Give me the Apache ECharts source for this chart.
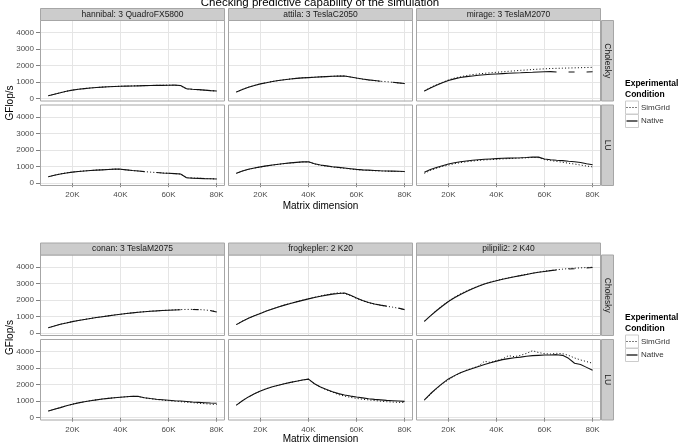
<!DOCTYPE html>
<html><head><meta charset="utf-8">
<script src="https://cdn.jsdelivr.net/npm/echarts@6/dist/echarts.min.js"></script>
<style>html,body{margin:0;padding:0;background:#fff}#c{width:678px;height:444px}</style>
</head><body><div id="c"></div>
<script>
// Matrix dimension (thousands)
const xs = [10,12.5,15,17.5,20,22.5,25,27.5,30,32.5,35,37.5,40,42.5,45,47.5,50,52.5,55,57.5,60,62.5,65,67.5,70,72.5,75,77.5,80];
const xTicks = [20,40,60,80];
const yTicks = [0,1000,2000,3000,4000];
const chartTitle = 'Checking predictive capability of the simulation';
const xTitle = 'Matrix dimension';
const yTitle = 'GFlop/s';
const rowLabels = ['Cholesky','LU'];
const legendTitle = ['Experimental','Condition'];
const legendLabels = ['SimGrid','Native'];
const topTitles = ['hannibal: 3 QuadroFX5800','attila: 3 TeslaC2050','mirage: 3 TeslaM2070'];
const bottomTitles = ['conan: 3 TeslaM2075','frogkepler: 2 K20','pilipili2: 2 K40'];

// GFlop/s values
const hannibalCholSim    = [185,275,365,450,525,575,615,650,680,705,725,740,755,765,775,785,790,800,810,815,820,820,790,590,565,545,515,490,465];
const hannibalCholNative = [180,270,360,450,520,570,610,650,680,700,720,740,750,760,770,780,790,800,805,810,815,820,800,600,570,550,520,490,470];
const attilaCholSim      = [405,565,695,805,905,975,1045,1100,1155,1195,1235,1265,1285,1305,1325,1345,1360,1375,1380,1315,1245,1185,1135,1095,1055,1030,995,955,915];
const attilaCholNative   = [400,560,690,800,900,970,1040,1100,1150,1190,1230,1260,1280,1300,1320,1340,1360,1370,1380,1320,1250,1190,1140,1100,1060,null,1000,960,920];
const mirageCholSim      = [470,680,850,990,1140,1250,1330,1400,1460,1500,1540,1570,1600,1630,1660,1690,1720,1740,1770,1790,1810,1830,1840,1850,1860,1870,1880,1890,1900];
const mirageCholNative   = [460,650,820,960,1100,1200,1280,1340,1380,1420,1450,1480,1500,1520,1540,1560,1570,1590,1600,1620,1630,1640,1620,null,1620,1620,null,1620,1630];
const hannibalLUSim      = [395,485,565,625,675,715,745,770,795,815,835,850,845,805,765,735,700,670,645,620,600,580,555,335,315,300,285,270,260];
const hannibalLUNative   = [390,480,560,620,670,710,740,770,790,810,830,850,850,810,770,740,700,null,650,620,600,580,560,330,310,295,275,265,255];
const attilaLUSim        = [595,735,835,915,985,1045,1095,1145,1185,1225,1255,1285,1295,1170,1085,1030,980,940,900,860,820,795,775,755,740,730,720,710,700];
const attilaLUNative     = [600,740,840,920,990,1050,1100,1150,1190,1230,1260,1290,1300,1180,1100,1050,1000,960,920,880,840,810,790,770,750,740,730,720,710];
const mirageLUSim        = [600,770,900,1010,1100,1180,1250,1300,1340,1380,1410,1430,1450,1470,1490,1510,1520,1540,1560,1550,1430,1370,1320,1270,1210,1160,1100,1040,990];
const mirageLUNative     = [660,830,950,1060,1160,1240,1300,1350,1390,1420,1450,1470,1490,1510,1520,1530,1540,1560,1590,1580,1470,1420,1390,1370,1330,1300,1250,1180,1120];

const conanCholSim       = [335,445,545,625,705,775,835,895,955,1005,1055,1105,1150,1195,1235,1275,1305,1335,1355,1380,1400,1415,1430,1440,1445,1435,1410,1375,1295];
const conanCholNative    = [330,440,540,620,700,770,830,890,950,1000,1050,1100,1150,1190,1230,1270,1300,1330,1350,1375,1395,1410,1425,null,1440,1430,null,1370,1290];
const frogCholSim        = [530,730,905,1070,1210,1350,1480,1600,1710,1810,1910,2000,2090,2180,2260,2330,2400,2450,2410,2280,2110,1970,1850,1760,1690,1630,1580,1510,1420];
const frogCholNative     = [520,720,900,1060,1200,1340,1470,1590,1700,1800,1900,1990,2080,2160,2240,2310,2370,2410,2440,2300,2130,1980,1860,1770,1700,1640,null,1520,1430];
const pilipiliCholSim    = [730,1060,1380,1680,1950,2180,2390,2560,2720,2860,2990,3100,3200,3280,3360,3430,3500,3570,3640,3700,3760,3800,3850,3880,3920,3940,3960,3980,4000];
const pilipiliCholNative = [720,1050,1360,1650,1920,2150,2350,2530,2700,2850,2980,3090,3180,3270,3350,3420,3490,3560,3630,3690,3740,3790,3830,null,3890,3910,null,3950,3980];
const conanLUSim         = [405,515,615,720,820,900,970,1030,1085,1135,1175,1210,1245,1270,1295,1280,1200,1150,1100,1065,1030,1000,970,940,910,880,850,820,800];
const conanLUNative      = [400,510,610,720,820,900,970,1030,1080,1130,1170,1210,1240,1270,1300,1290,1210,1160,1120,1090,1060,1030,1010,980,950,930,910,890,880];
const frogLUSim          = [760,1030,1260,1450,1620,1760,1870,1970,2060,2140,2210,2280,2340,2050,1850,1690,1550,1400,1310,1230,1170,1120,1080,1040,1000,970,950,930,920];
const frogLUNative       = [760,1030,1260,1450,1620,1760,1870,1970,2060,2140,2210,2280,2340,2060,1860,1710,1570,1460,1380,1310,1250,1200,1150,1110,1080,1050,1030,1010,990];
const pilipiliLUSim      = [1070,1400,1750,2050,2300,2520,2720,2880,3000,3120,3420,3350,3450,3560,3760,3700,3780,3900,4060,3950,3880,3860,3900,3880,3780,3620,3500,3400,3300];
const pilipiliLUNative   = [1080,1450,1780,2080,2350,2550,2720,2860,2980,3100,3220,3330,3430,3520,3580,3630,3670,3720,3760,3780,3800,3800,3820,3780,3600,3300,3220,3050,2870];

const panels = [
  {b:0,r:0,c:0,sim:hannibalCholSim,nat:hannibalCholNative},
  {b:0,r:0,c:1,sim:attilaCholSim,nat:attilaCholNative},
  {b:0,r:0,c:2,sim:mirageCholSim,nat:mirageCholNative},
  {b:0,r:1,c:0,sim:hannibalLUSim,nat:hannibalLUNative},
  {b:0,r:1,c:1,sim:attilaLUSim,nat:attilaLUNative},
  {b:0,r:1,c:2,sim:mirageLUSim,nat:mirageLUNative},
  {b:1,r:0,c:0,sim:conanCholSim,nat:conanCholNative},
  {b:1,r:0,c:1,sim:frogCholSim,nat:frogCholNative},
  {b:1,r:0,c:2,sim:pilipiliCholSim,nat:pilipiliCholNative},
  {b:1,r:1,c:0,sim:conanLUSim,nat:conanLUNative},
  {b:1,r:1,c:1,sim:frogLUSim,nat:frogLUNative},
  {b:1,r:1,c:2,sim:pilipiliLUSim,nat:pilipiliLUNative}
];

const FONT = '"Liberation Sans", Arial, sans-serif';
const colLeft = [40, 228, 416];
const PW = 185;
const rowTop = [[20, 104.5],[254.5, 339]];
const PH = 81.5;
const stripTop = [8, 242.5];
const BORDER = '#a6a6a6';
const TICKC = '#7f7f7f';
const LABC = '#4d4d4d';

const grid = [], xAxis = [], yAxis = [], series = [], graphic = [];
panels.forEach((p, i) => {
  const left = colLeft[p.c], top = rowTop[p.b][p.r];
  grid.push({left: left, top: top, width: PW, height: PH, show: false});
  const bottomRow = p.r === 1, leftCol = p.c === 0;
  xAxis.push({type:'value', gridIndex:i, min:6.5, max:83.5,
    axisLine:{show:false},
    axisTick:{show:bottomRow, length:4, customValues:xTicks, lineStyle:{color:TICKC}},
    axisLabel:{show:bottomRow, customValues:xTicks, formatter: v => v + 'K', fontSize:8, color:LABC, margin:5, fontFamily:FONT},
    splitLine:{show:true, lineStyle:{color:'#e5e5e5', width:1}}});
  yAxis.push({type:'value', gridIndex:i, min:-170, max:4770,
    axisLine:{show:false},
    axisTick:{show:leftCol, length:4, customValues:yTicks, lineStyle:{color:TICKC}},
    axisLabel:{show:leftCol, customValues:yTicks, formatter: v => String(v), fontSize:8, color:LABC, margin:6, fontFamily:FONT},
    splitLine:{show:true, lineStyle:{color:'#e5e5e5', width:1}}});
  series.push({type:'line', name:legendLabels[0], xAxisIndex:i, yAxisIndex:i, showSymbol:false, symbol:'none',
    connectNulls:false, data: xs.map((x,k)=>[x, p.sim[k]]),
    lineStyle:{color:'#000', width:1, type:[1,2.2]}, z:2});
  series.push({type:'line', name:legendLabels[1], xAxisIndex:i, yAxisIndex:i, showSymbol:false, symbol:'none',
    connectNulls:false, data: xs.map((x,k)=>[x, p.nat[k]]),
    lineStyle:{color:'#111', width:1.1}, z:3});
  graphic.push({type:'rect', z:100, silent:true, shape:{x:left+0.5, y:top+0.5, width:PW-1, height:PH-1},
    style:{fill:'none', stroke:BORDER, lineWidth:1}});
});

function txt(x, y, text, size, opts) {
  opts = opts || {};
  return {type:'text', x:x, y:y, rotation: opts.rot || 0, z:110, silent:true,
    style:{text:text, fill: opts.fill || '#000', font: (opts.bold ? 'bold ' : '') + size + 'px ' + FONT,
      textAlign: opts.align || 'center', textVerticalAlign:'middle', align: opts.align || 'center', verticalAlign:'middle'}};
}

[topTitles, bottomTitles].forEach((titles, b) => {
  titles.forEach((t, c) => {
    graphic.push({type:'rect', z:100, silent:true, shape:{x:colLeft[c]+0.5, y:stripTop[b]+0.5, width:PW-1, height:12},
      style:{fill:'#cccccc', stroke:BORDER, lineWidth:1}});
    graphic.push(txt(colLeft[c] + PW/2, stripTop[b] + 6.5, t, 8.5, {fill:'#1a1a1a'}));
  });
  rowLabels.forEach((lab, r) => {
    const top = rowTop[b][r];
    graphic.push({type:'rect', z:100, silent:true, shape:{x:601.5, y:top+0.5, width:12, height:PH-1},
      style:{fill:'#cccccc', stroke:BORDER, lineWidth:1}});
    graphic.push(txt(607.5, top + PH/2, lab, 8.5, {fill:'#1a1a1a', rot:-Math.PI/2}));
  });
  const blockMid = (rowTop[b][0] + rowTop[b][1] + PH) / 2;
  graphic.push(txt(10, blockMid, yTitle, 10, {rot:Math.PI/2}));
  graphic.push(txt(320.5, b === 0 ? 206 : 439, xTitle, 10));
  // legend
  const ly = b === 0 ? 84 : 318;
  graphic.push(txt(625, ly, legendTitle[0], 8.5, {bold:true, align:'left'}));
  graphic.push(txt(625, ly + 10.5, legendTitle[1], 8.5, {bold:true, align:'left'}));
  legendLabels.forEach((lab, k) => {
    const ky = ly + 16.5 + k * 13.5;
    graphic.push({type:'rect', z:100, silent:true, shape:{x:625.5, y:ky+0.5, width:13, height:13},
      style:{fill:'#fff', stroke:'#cccccc', lineWidth:1}});
    graphic.push({type:'line', z:101, silent:true, shape:{x1:626.5, y1:ky+7, x2:637.5, y2:ky+7},
      style:{stroke:'#000', lineWidth: k === 0 ? 1 : 1.2, lineDash: k === 0 ? [1,2] : null}});
    graphic.push(txt(641, ky + 7, lab, 8, {align:'left', fill:'#333'}));
  });
});
graphic.push(txt(320, 3, chartTitle, 11.5));

const chart = echarts.init(document.getElementById('c'), null, {renderer:'canvas'});
chart.setOption({animation:false, backgroundColor:'#fff', grid, xAxis, yAxis, series, graphic});
</script>
</body></html>
